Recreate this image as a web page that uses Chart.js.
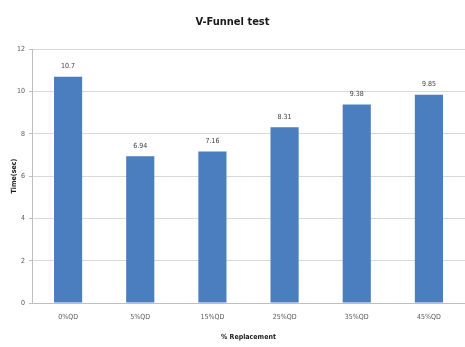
<!DOCTYPE html>
<html>
<head>
<meta charset="utf-8">
<script src="https://cdn.jsdelivr.net/npm/chart.js@4/dist/chart.umd.min.js"></script>
<style>
  html, body { margin: 0; padding: 0; background: #ffffff; }
  #wrap { width: 465px; height: 347px; position: relative; }
</style>
</head>
<body>
<div id="wrap"><canvas id="c"></canvas></div>
<script>
// V-Funnel flow time for each replacement level
const categories = ['0%QD', '5%QD', '15%QD', '25%QD', '35%QD', '45%QD'];
const flowTimes = [10.7, 6.94, 7.16, 8.31, 9.38, 9.85];
const valueLabels = ['10.7', '6.94', '7.16', '8.31', '9.38', '9.85'];
const yTicks = [0, 2, 4, 6, 8, 10, 12];

const FONT = '"DejaVu Sans Condensed", "Liberation Sans Narrow", "Liberation Sans", sans-serif';

// Writes the value above each bar, positioned from the bar element itself
const barValueLabels = {
  id: 'barValueLabels',
  afterDatasetsDraw(chart) {
    const ctx = chart.ctx;
    const meta = chart.getDatasetMeta(0);
    ctx.save();
    ctx.font = '7px ' + FONT;
    ctx.fillStyle = '#404040';
    ctx.textAlign = 'center';
    ctx.textBaseline = 'bottom';
    meta.data.forEach((bar, i) => {
      ctx.fillText(valueLabels[i], bar.x, bar.y - 7);
    });
    ctx.restore();
  }
};

new Chart(document.getElementById('c'), {
  type: 'bar',
  data: {
    labels: categories,
    datasets: [{
      data: flowTimes,
      backgroundColor: '#4a7ebf',
      borderWidth: 0,
      barPercentage: 0.39,
      categoryPercentage: 1.0
    }]
  },
  options: {
    responsive: true,
    maintainAspectRatio: false,
    animation: false,
    layout: { padding: { left: 0, right: 0, top: 0, bottom: 0 } },
    plugins: {
      legend: { display: false },
      tooltip: { enabled: false },
      title: {
        display: true,
        text: 'V-Funnel test',
        color: '#1a1a1a',
        font: { family: FONT, size: 11, weight: 'bold' },
        padding: { top: 16, bottom: 20 }
      }
    },
    scales: {
      x: {
        grid: { display: false, drawTicks: false },
        border: { display: true, color: '#bfbfbf', width: 1 },
        ticks: {
          color: '#595959',
          font: { family: FONT, size: 7 },
          padding: 10,
          maxRotation: 0,
          autoSkip: false
        },
        title: {
          display: true,
          text: '% Replacement',
          color: '#1a1a1a',
          font: { family: FONT, size: 7, weight: 'bold' },
          padding: { top: 6, bottom: 6 }
        },
        afterFit(scale) { scale.height = 44; }
      },
      y: {
        min: 0,
        max: 12,
        afterBuildTicks(scale) { scale.ticks = yTicks.map(v => ({ value: v })); },
        grid: { color: '#d9d9d9', lineWidth: 1, drawTicks: true, tickLength: 3, tickColor: '#bfbfbf' },
        border: { display: true, color: '#bfbfbf', width: 1 },
        ticks: {
          color: '#595959',
          font: { family: FONT, size: 7 },
          padding: 4
        },
        title: {
          display: true,
          text: 'Time(sec)',
          color: '#1a1a1a',
          font: { family: FONT, size: 7, weight: 'bold' },
          padding: { top: 10, bottom: 0 }
        },
        afterFit(scale) { scale.width = 32; }
      }
    }
  },
  plugins: [barValueLabels]
});
</script>
</body>
</html>
